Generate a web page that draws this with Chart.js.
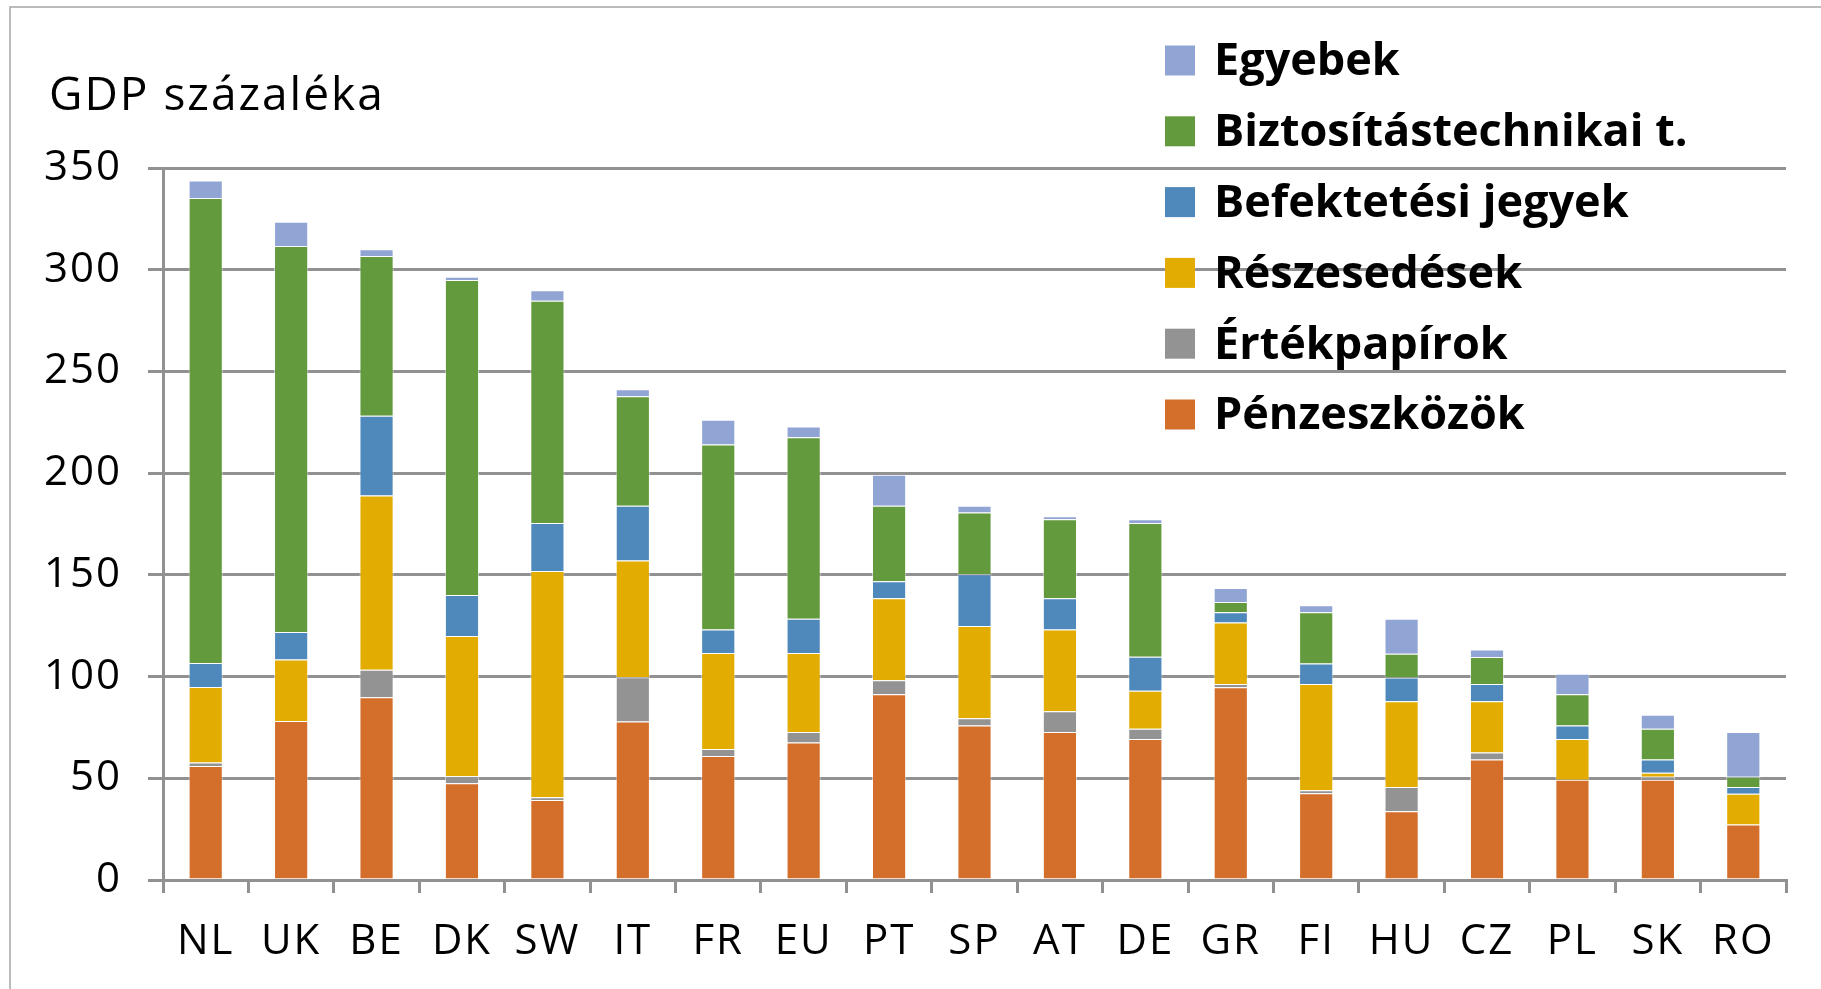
<!DOCTYPE html>
<html>
<head>
<meta charset="utf-8">
<script src="https://cdn.jsdelivr.net/npm/chart.js@4"></script>
<style>
    html, body { margin: 0; padding: 0; background: #fff; }
    #wrap { position: relative; width: 1821px; height: 989px; }
</style>
</head>
<body>
<div id="wrap"><canvas id="assetChart" width="1821" height="989"></canvas></div>
<script>
// Országok
const countries = ['NL', 'UK', 'BE', 'DK', 'SW', 'IT', 'FR', 'EU', 'PT', 'SP', 'AT', 'DE', 'GR', 'FI', 'HU', 'CZ', 'PL', 'SK', 'RO'];

// Sorozatok (GDP %)
const penzeszkozok   = [56.0, 78.1, 89.8, 47.6, 39.3, 77.9, 60.9, 67.6, 91.3, 76.0, 72.8, 69.3, 94.7, 42.6, 33.8, 59.2, 49.3, 49.3, 27.3];
const ertekpapirok   = [1.7, 0, 13.5, 3.4, 1.4, 21.8, 3.5, 5.2, 6.9, 3.5, 10.1, 5.0, 1.6, 1.5, 11.9, 3.5, 0, 1.5, 0];
const reszesedesek   = [37.2, 30.3, 85.7, 69.0, 111.2, 57.3, 47.2, 38.8, 40.3, 45.4, 40.3, 18.7, 30.3, 52.2, 42.2, 25.2, 20.0, 1.9, 15.1];
const befektetesi    = [11.8, 13.5, 39.2, 20.1, 23.6, 27.0, 11.6, 16.8, 8.4, 25.4, 15.3, 16.8, 5.0, 10.1, 11.6, 8.4, 6.7, 6.5, 3.3];
const biztositas     = [228.6, 189.8, 78.6, 154.9, 109.2, 53.8, 90.9, 89.2, 37.1, 30.4, 38.8, 65.7, 5.0, 25.2, 11.7, 13.3, 15.3, 15.1, 5.1];
const egyebek        = [8.6, 11.9, 3.2, 1.6, 5.2, 3.5, 12.1, 5.3, 15.2, 3.3, 1.5, 1.8, 6.9, 3.5, 17.2, 3.7, 10.1, 6.9, 22.0];

const seriesNames  = ['Pénzeszközök', 'Értékpapírok', 'Részesedések', 'Befektetési jegyek', 'Biztosítástechnikai t.', 'Egyebek'];
const seriesColors = ['#D46E2B', '#939393', '#E2AC00', '#4F89BC', '#629A3D', '#91A5D5'];
const yTicks = [0, 50, 100, 150, 200, 250, 300, 350];

const axisTitle = 'GDP százaléka';
const gridColor = '#919191';

const seriesData = [penzeszkozok, ertekpapirok, reszesedesek, befektetesi, biztositas, egyebek];

const datasets = seriesData.map((values, i) => ({
    label: seriesNames[i],
    data: values,
    backgroundColor: seriesColors[i],
    borderColor: 'rgba(255,255,255,0.55)',
    borderWidth: 1,
    barPercentage: 0.4,
    categoryPercentage: 1.0
}));

// Keret, tengelycím és a legenda (a diagram fölé rajzolva)
const overlayPlugin = {
    id: 'overlay',
    beforeDraw(chart) {
        // kicsit ritkább betűköz a tengelyfeliratokhoz (Calibri-szerű)
        chart.ctx.letterSpacing = '2px';
    },
    afterDraw(chart) {
        const ctx = chart.ctx;
        ctx.save();

        // keret
        ctx.strokeStyle = '#a6a6a6';
        ctx.lineWidth = 1.5;
        ctx.beginPath();
        ctx.moveTo(10, 989);
        ctx.lineTo(10, 7);
        ctx.lineTo(1821, 7);
        ctx.stroke();

        // tengelycím
        ctx.fillStyle = '#000';
        ctx.letterSpacing = '2px';
        ctx.font = '46px "Open Sans"';
        ctx.textBaseline = 'alphabetic';
        ctx.textAlign = 'left';
        ctx.fillText(axisTitle, 49, 110);

        // legenda fordított sorrendben
        ctx.letterSpacing = '0px';
        ctx.font = 'bold 45px "Open Sans"';
        ctx.textBaseline = 'middle';
        const n = chart.data.datasets.length;
        for (let k = 0; k < n; k++) {
            const ds = chart.data.datasets[n - 1 - k];
            const cy = 60.5 + k * 70.8;
            ctx.fillStyle = ds.backgroundColor;
            ctx.fillRect(1165, cy - 15, 30, 30);
            ctx.fillStyle = '#000';
            ctx.fillText(ds.label, 1214, cy + 2);
        }
        ctx.restore();
    }
};

const ctxAsset = document.getElementById('assetChart').getContext('2d');
new Chart(ctxAsset, {
    type: 'bar',
    data: {
        labels: countries,
        datasets: datasets
    },
    options: {
        responsive: false,
        animation: false,
        layout: {
            padding: { top: 168, right: 35, left: 10, bottom: 0 }
        },
        plugins: {
            legend: { display: false },
            title: { display: false },
            tooltip: { enabled: false }
        },
        scales: {
            x: {
                stacked: true,
                grid: {
                    drawOnChartArea: false,
                    drawTicks: true,
                    tickLength: 13,
                    offset: true,
                    color: gridColor,
                    lineWidth: 3
                },
                border: { display: true, color: gridColor, width: 3 },
                ticks: {
                    color: '#000',
                    padding: 24,
                    font: { family: '"Open Sans"', size: 42 }
                },
                afterFit(scale) { scale.height = 109; }
            },
            y: {
                stacked: true,
                min: 0,
                max: 350,
                afterBuildTicks(scale) {
                    scale.ticks = yTicks.map(v => ({ value: v }));
                },
                grid: {
                    color: gridColor,
                    lineWidth: 3,
                    tickLength: 15
                },
                border: { display: true, color: gridColor, width: 3 },
                ticks: {
                    color: '#000',
                    padding: 26,
                    font: { family: '"Open Sans"', size: 42 }
                },
                afterFit(scale) { scale.width = 153; }
            }
        }
    },
    plugins: [overlayPlugin]
});
</script>
</body>
</html>
